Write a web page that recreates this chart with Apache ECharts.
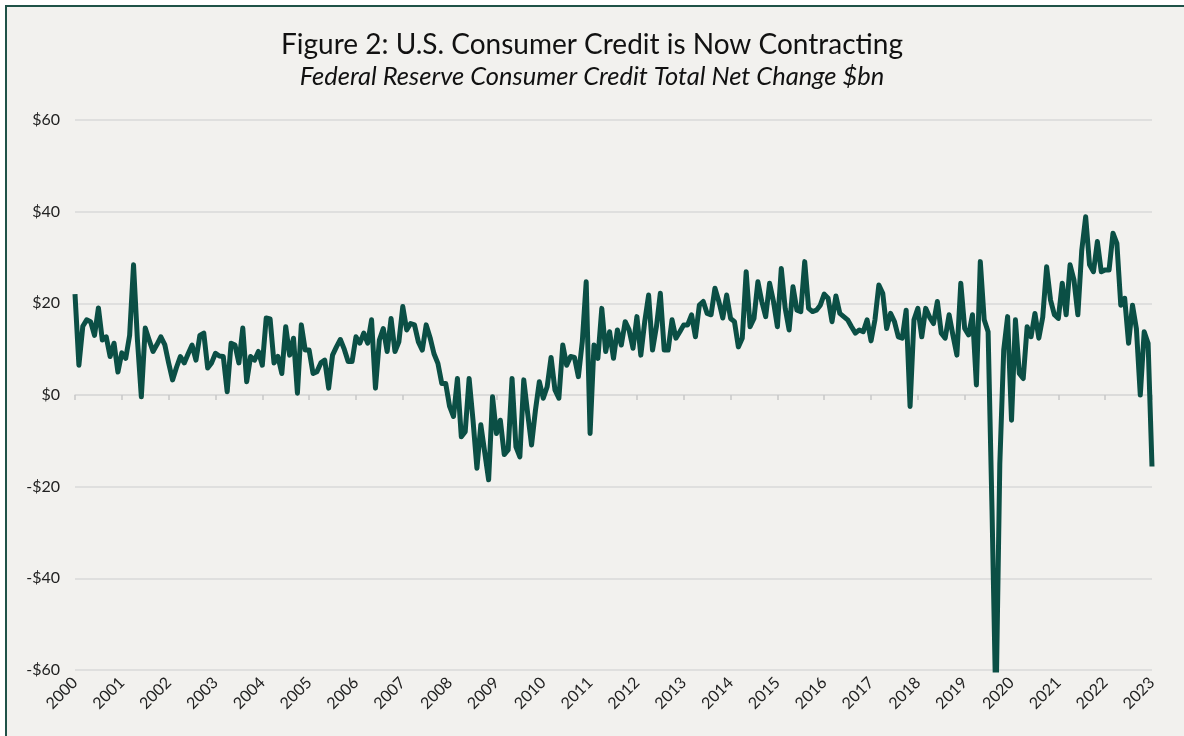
<!DOCTYPE html>
<html>
<head>
<meta charset="utf-8">
<title>Consumer Credit</title>
<script src="https://cdn.jsdelivr.net/npm/echarts@6/dist/echarts.min.js"></script>
<style>
    html, body { margin: 0; padding: 0; background: #fff; }
    body { position: relative; width: 1184px; height: 736px; overflow: hidden; }
    #frame { position: absolute; left: 5px; top: 5px; width: 1200px; height: 760px;
             border: 2px solid #1f5248; background: #f2f1ee; }
    #main { position: absolute; left: 0; top: 0; width: 1184px; height: 736px; }
</style>
</head>
<body>
<div id="frame"></div>
<div id="main"></div>
<script>
// year labels, one every 12 monthly points
var years = ['2000','2001','2002','2003','2004','2005','2006','2007','2008','2009','2010','2011',
             '2012','2013','2014','2015','2016','2017','2018','2019','2020','2021','2022','2023'];

// monthly net change, $bn
var netChange = [
    22, 6.5, 15, 16.4, 16, 13, 19, 12, 12.7, 8.4, 11.3, 5,
    9.2, 8, 13, 28.4, 12, -0.4, 14.6, 12, 9.5, 11, 12.7, 11,
    7, 3.3, 6, 8.4, 7, 9, 10.9, 7.6, 13, 13.5, 5.9, 7,
    9.1, 8.5, 8.4, 0.7, 11.3, 10.9, 7, 14.6, 2.9, 8.4, 7.6, 9.5,
    6.5, 16.8, 16.6, 7, 8.4, 4.7, 14.9, 8.7, 12.4, 0.4, 15.3, 9.8,
    9.8, 4.7, 5.1, 7, 7.6, 1.5, 8.7, 10.5, 12.1, 10, 7.3, 7.3,
    12.7, 11.3, 13.5, 11.3, 16.4, 1.5, 12, 14.5, 9.5, 16.7, 9.5, 11.6,
    19.3, 14.2, 15.6, 15.3, 11.6, 9.8, 15.3, 12.5, 9, 6.9, 2.5, 2.5,
    -2.5, -4.7, 3.6, -9.1, -8, 3.6, -5.5, -16, -6.5, -12.5, -18.5, -0.4,
    -8.4, -5.5, -13, -12, 3.6, -11.3, -13.5, 3.3, -4, -10.9, -3.3, 2.9,
    -0.7, 1.8, 8.2, 1.1, -0.7, 10.9, 6.5, 8.4, 8.2, 4, 11.6, 24.7,
    -8.4, 10.9, 8, 18.9, 9.5, 13.8, 8, 14.2, 10.9, 16, 14.2, 10.2,
    17.1, 8.7, 16, 21.8, 9.8, 14.9, 22.2, 9.8, 9.8, 16.4, 12.4, 13.8,
    15.3, 15.3, 17.5, 12.7, 19.6, 20.4, 17.8, 17.5, 23.3, 20.4, 16.8, 21.8,
    16.7, 16, 10.5, 12.4, 26.9, 14.9, 16.7, 24.7, 20.4, 17.1, 24.4, 20.4,
    14.9, 27.6, 18.9, 14.2, 23.6, 18.5, 18.2, 29.1, 18.9, 18.2, 18.5, 19.6,
    22, 21.1, 16, 21.6, 17.8, 17.1, 16.4, 14.9, 13.5, 14.2, 13.8, 16.4,
    11.8, 16.4, 24, 22.2, 14.5, 17.8, 16, 12.7, 12.4, 18.5, -2.5, 16.4,
    18.9, 12.7, 18.9, 17, 15.6, 20.4, 13.5, 12.4, 17.5, 13, 8.7, 24.4,
    14.5, 13.1, 17.5, 2.2, 29.1, 16.4, 13.8, -25, -69, -15, 9.8, 17.1,
    -5.5, 16.4, 4.7, 3.6, 14.9, 12.7, 17.8, 12.4, 17, 28, 20.7, 17.5,
    16.7, 24.4, 17.5, 28.4, 25.1, 17.5, 31.6, 38.9, 28.4, 26.9, 33.5, 26.9,
    27.3, 27.3, 35.3, 33.1, 19.6, 21.1, 11.3, 19.6, 14.5, 0, 13.8, 11.3,
    -15.6
];

var yTicks = { min: -60, max: 60, step: 20 };

var titleText = 'Figure 2: U.S. Consumer Credit is Now Contracting';
var subtitleText = 'Federal Reserve Consumer Credit Total Net Change $bn';

// category per month, year name on every 12th
var months = [];
for (var i = 0; i < netChange.length; i++) {
    months.push(years[Math.floor(i / 12)] || years[years.length - 1]);
}
function isYearStart(idx) { return idx % 12 === 0; }

var fontName = 'Lato, "Open Sans", sans-serif';

var myChart = echarts.init(document.getElementById('main'), null, { renderer: 'canvas' });
myChart.setOption({
    backgroundColor: 'transparent',
    animation: false,
    title: [
        { text: titleText, left: 'center', top: 31, padding: [0, 0, 0, 14],
          textStyle: { fontFamily: fontName, fontSize: 28, fontWeight: 'normal', color: '#111' } },
        { text: subtitleText, left: 'center', top: 64, padding: [0, 0, 0, 10],
          textStyle: { fontFamily: fontName, fontSize: 25.5, fontStyle: 'italic', fontWeight: 'normal', color: '#111' } }
    ],
    grid: { left: 75, right: 32, top: 120, bottom: 66 },
    xAxis: [
        {   // axis line + ticks sitting on the $0 line
            type: 'category', data: months, boundaryGap: false,
            axisLine: { onZero: true, lineStyle: { color: '#d9d9d9', width: 1.5 } },
            axisTick: { interval: function (idx) { return isYearStart(idx); }, length: 5,
                        lineStyle: { color: '#c8c8c8', width: 1.5 } },
            axisLabel: { show: false }
        },
        {   // year labels at the bottom
            type: 'category', data: months, boundaryGap: false, position: 'bottom',
            axisLine: { show: false, onZero: false }, axisTick: { show: false },
            axisLabel: { interval: function (idx) { return isYearStart(idx); }, rotate: 45, margin: 10,
                         fontFamily: fontName, fontSize: 16, color: '#222' }
        }
    ],
    yAxis: {
        type: 'value', min: yTicks.min, max: yTicks.max, interval: yTicks.step,
        axisLine: { show: false }, axisTick: { show: false },
        splitLine: { lineStyle: { color: '#d9d9d9', width: 1.5 } },
        axisLabel: {
            margin: 15, fontFamily: fontName, fontSize: 16, color: '#222',
            formatter: function (v) { return v < 0 ? '-$' + Math.abs(v) : '$' + v; }
        }
    },
    series: [{
        name: 'Net Change', type: 'line', xAxisIndex: 0, data: netChange,
        symbol: 'none', clip: true,
        lineStyle: { color: '#0b4f45', width: 5, join: 'round' }
    }]
});
</script>
</body>
</html>
